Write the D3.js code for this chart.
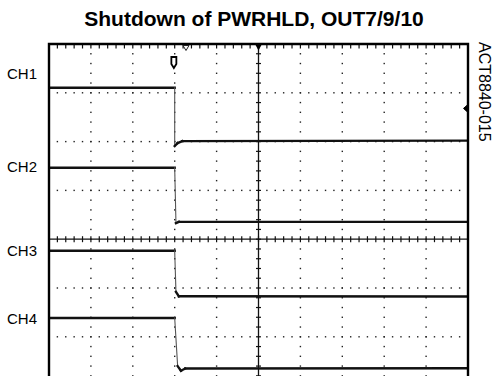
<!DOCTYPE html>
<html>
<head>
<meta charset="utf-8">
<script src="https://cdn.jsdelivr.net/npm/d3@7"></script>
<style>
  body { margin: 0; background: #fff; }
  svg { display: block; font-family: Arial, "Liberation Sans", sans-serif; }
</style>
</head>
<body>
<div id="chart"></div>
<script>
// Scope capture, time and volts both in divisions (center = 0)
const channels = ['CH1', 'CH2', 'CH3', 'CH4'];
const labelLevels = [3.385, 1.48, -0.24, -1.635];

const ch1 = [[-5, 3.105], [-2.0, 3.105], [-2.0, 1.91], [-1.93, 1.97], [-1.82, 2.01], [5, 2.02]];
const ch2 = [[-5, 1.465], [-2.0, 1.465], [-1.97, 0.33], [-1.9, 0.355], [5, 0.355]];
const ch3 = [[-5, -0.236], [-2.0, -0.236], [-1.97, -1.08], [-1.9, -1.17], [5, -1.175]];
const ch4 = [[-5, -1.615], [-2.0, -1.615], [-1.93, -2.6], [-1.85, -2.695], [-1.75, -2.65], [5, -2.645]];
const traces = [ch1, ch2, ch3, ch4];

const triggerTime = -2.02;
const markerTime = -1.73;
const triggerLevel = 2.68;

const width = 496, height = 376;
const svg = d3.select('#chart').append('svg')
  .attr('width', width)
  .attr('height', height);

const x = d3.scaleLinear().domain([-5, 5]).range([49, 468]);
const y = d3.scaleLinear().domain([-4, 4]).range([434.4, 44]);
const bottom = height;

// Title
svg.append('text')
  .attr('x', 254)
  .attr('y', 26)
  .attr('text-anchor', 'middle')
  .style('font-size', '21px')
  .style('font-weight', 'bold')
  .text('Shutdown of PWRHLD, OUT7/9/10');

// Side label
svg.append('text')
  .attr('transform', 'translate(479,42) rotate(90)')
  .style('font-size', '16px')
  .text('ACT8840-015');

// Channel labels
svg.selectAll('.chlabel')
  .data(channels)
  .enter().append('text')
  .attr('class', 'chlabel')
  .attr('x', 7)
  .attr('y', (d, i) => y(labelLevels[i]))
  .attr('dy', '0.36em')
  .style('font-size', '15px')
  .text(d => d);

const plot = svg.append('g');
plot.append('clipPath').attr('id', 'clip')
  .append('rect').attr('x', 49).attr('y', 44).attr('width', 419).attr('height', bottom - 44);

const grid = plot.append('g').attr('clip-path', 'url(#clip)');

const majorX = d3.range(-4, 5).filter(d => d !== 0);
const majorY = d3.range(-3, 4).filter(d => d !== 0);
const minorX = d3.range(-50, 51).map(d => d / 10).filter((d, i) => i % 2 === 0);
const minorY = d3.range(-40, 41).map(d => d / 10).filter((d, i) => i % 2 === 0);

// Dotted vertical grid lines
majorX.forEach(t => {
  grid.selectAll(null)
    .data(minorY)
    .enter().append('rect')
    .attr('x', x(t) - 0.7)
    .attr('y', d => y(d) - 0.7)
    .attr('width', 1.4)
    .attr('height', 1.4)
    .attr('fill', '#222');
});

// Dotted horizontal grid lines
majorY.forEach(v => {
  grid.selectAll(null)
    .data(minorX)
    .enter().append('rect')
    .attr('x', d => x(d) - 0.7)
    .attr('y', y(v) - 0.7)
    .attr('width', 1.4)
    .attr('height', 1.4)
    .attr('fill', '#222');
});

// Center axes with ticks
grid.append('line')
  .attr('x1', x(0)).attr('x2', x(0))
  .attr('y1', 44).attr('y2', bottom)
  .attr('stroke', '#111').attr('stroke-width', 1.3);
grid.selectAll(null)
  .data(minorY)
  .enter().append('line')
  .attr('x1', x(0) - 2.5).attr('x2', x(0) + 2.5)
  .attr('y1', d => y(d)).attr('y2', d => y(d))
  .attr('stroke', '#111').attr('stroke-width', 1.2);

grid.append('line')
  .attr('x1', 49).attr('x2', 468)
  .attr('y1', y(0)).attr('y2', y(0))
  .attr('stroke', '#111').attr('stroke-width', 1.3);
grid.selectAll(null)
  .data(minorX)
  .enter().append('line')
  .attr('x1', d => x(d)).attr('x2', d => x(d))
  .attr('y1', y(0) - 3).attr('y2', y(0) + 3)
  .attr('stroke', '#111').attr('stroke-width', 1.2);

// Top ticks
grid.selectAll(null)
  .data(minorX)
  .enter().append('line')
  .attr('x1', d => x(d)).attr('x2', d => x(d))
  .attr('y1', 44).attr('y2', 48.5)
  .attr('stroke', '#111').attr('stroke-width', 1.2);

// Traces: flat parts drawn thick, fast edges thin
traces.forEach(pts => {
  const segs = d3.pairs(pts);
  grid.selectAll(null)
    .data(segs)
    .enter().append('line')
    .attr('x1', d => x(d[0][0])).attr('y1', d => y(d[0][1]))
    .attr('x2', d => x(d[1][0])).attr('y2', d => y(d[1][1]))
    .attr('stroke', d => Math.abs(d[1][1] - d[0][1]) > 0.3 ? '#555' : '#111')
    .attr('stroke-width', d => Math.abs(d[1][1] - d[0][1]) > 0.3 ? 1.1 : 2.4)
    .attr('stroke-linecap', 'square');
});

// Frame
plot.append('path')
  .attr('d', `M49,${bottom}V44H468V${bottom}`)
  .attr('fill', 'none')
  .attr('stroke', '#000')
  .attr('stroke-width', 2.4);

// Markers
const mx = x(markerTime);
plot.append('path')
  .attr('d', `M${mx - 3},45.5L${mx + 3},45.5L${mx},50.5Z`)
  .attr('fill', '#fff').attr('stroke', '#222').attr('stroke-width', 1);

const cx = x(0);
plot.append('path')
  .attr('d', `M${cx - 3.5},44L${cx + 3.5},44L${cx},50.5Z`)
  .attr('fill', '#000');

const tx = x(triggerTime);
plot.append('path')
  .attr('d', `M${tx - 2.5},57V64L${tx},68L${tx + 2.5},64V57Z`)
  .attr('fill', '#fff').attr('stroke', '#000').attr('stroke-width', 1.8);

const ty = y(triggerLevel);
plot.append('path')
  .attr('d', `M468,${ty - 4}L463.5,${ty}L468,${ty + 4}Z`)
  .attr('fill', '#000').attr('stroke', '#000').attr('stroke-width', 1);
</script>
</body>
</html>
